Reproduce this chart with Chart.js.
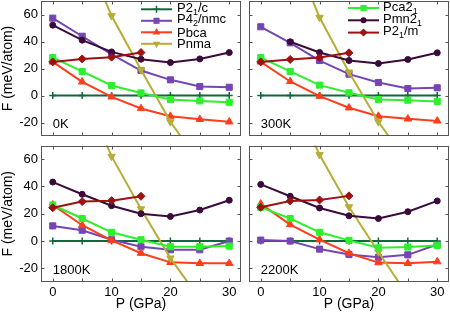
<!DOCTYPE html>
<html><head><meta charset="utf-8">
<script src="https://cdn.jsdelivr.net/npm/chart.js@4/dist/chart.umd.min.js"></script>
<style>
html,body{margin:0;padding:0;background:#fff;}
#wrap{position:relative;width:450px;height:315px;overflow:hidden;}
canvas{position:absolute;left:-20px;top:-20px;}
</style></head><body>
<div id="wrap">
<canvas id="c0" width="490" height="355"></canvas>
<canvas id="c1" width="490" height="355"></canvas>
<canvas id="c2" width="490" height="355"></canvas>
<canvas id="c3" width="490" height="355"></canvas>
</div>
<script>
// ---------------- data ----------------
const pressure = [0, 5, 10, 15, 20, 25, 30];
const phaseNames = ['P2_1/c', 'P4_2/nmc', 'Pbca', 'Pnma', 'Pca2_1', 'Pmn2_1', 'P2_1/m'];
const temperatures = ['0K', '300K', '1800K', '2200K'];
const xTickMarks = [0, 5, 10, 15, 20, 25, 30];
const xTickLabels = [0, 10, 20, 30];
const yTicks = [-20, 0, 20, 40, 60];
const xTitle = 'P (GPa)';
const yTitle = 'F (meV/atom)';

// 0K
const P21c_0K   = [0, 0, 0, 0, 0, 0, 0];
const P42nmc_0K = [57.3, 43.9, 30.4, 18.5, 11.6, 6.6, 6.1];
const Pbca_0K   = [24.9, 10.1, -1.0, -9.6, -15.3, -17.6, -19.5];
const Pnma_0K   = [null, 110, 59.0, 19.0, -19.5, -50, null];
const Pca21_0K  = [28.1, 17.8, 7.4, 1.9, -3.0, -4.0, -5.0];
const Pmn21_0K  = [52.1, 41.0, 32.3, 26.9, 24.4, 27.1, 31.8];
const P21m_0K   = [24.9, 27.1, 28.4, 31.8, null, null, null];

// 300K
const P21c_300K   = [0, 0, 0, 0, 0, 0, 0];
const P42nmc_300K = [50.9, 39.0, 25.9, 15.8, 9.6, 5.2, 5.7];
const Pbca_300K   = [24.9, 10.4, -0.5, -9.1, -15.3, -17.3, -18.8];
const Pnma_300K   = [null, 111, 57.8, 17.3, -19.5, -50, null];
const Pca21_300K  = [28.1, 17.8, 7.7, 2.0, -3.0, -3.5, -4.4];
const Pmn21_300K  = [null, 39.8, 31.9, 25.9, 23.7, 26.7, 31.6];
const P21m_300K   = [24.9, 26.7, 28.1, 31.6, null, null, null];

// 1800K
const P21c_1800K   = [0, 0, 0, 0, 0, 0, 0];
const P42nmc_1800K = [11.1, 7.9, 1.0, -4.2, -6.4, -6.4, 0.0];
const Pbca_1800K   = [26.5, 11.6, 0.5, -8.9, -15.6, -16.3, -16.3];
const Pnma_1800K   = [null, 112, 62.0, 23.5, -12.5, -42.5, null];
const Pca21_1800K  = [26.4, 16.5, 6.4, 1.0, -4.2, -4.2, -3.7];
const Pmn21_1800K  = [43.2, 34.3, 25.9, 20.0, 18.0, 22.7, 29.9];
const P21m_1800K   = [24.4, 28.9, 29.6, 32.8, null, null, null];

// 2200K
const P21c_2200K   = [0, 0, 0, 0, 0, 0, 0];
const P42nmc_2200K = [0.7, 0.0, -5.9, -9.9, -11.9, -10.1, -2.5];
const Pbca_2200K   = [27.2, 12.1, 1.0, -8.9, -15.8, -16.3, -15.1];
const Pnma_2200K   = [null, 110, 63.2, 25.0, -8.0, -40, null];
const Pca21_2200K  = [24.7, 16.5, 6.4, 0.5, -4.9, -4.4, -3.2];
const Pmn21_2200K  = [41.5, 32.8, 24.2, 18.5, 16.5, 21.5, 29.4];
const P21m_2200K   = [24.7, 29.4, 30.1, 33.1, null, null, null];

const panelSeries = [
  [P21c_0K, P42nmc_0K, Pbca_0K, Pnma_0K, Pca21_0K, Pmn21_0K, P21m_0K],
  [P21c_300K, P42nmc_300K, Pbca_300K, Pnma_300K, Pca21_300K, Pmn21_300K, P21m_300K],
  [P21c_1800K, P42nmc_1800K, Pbca_1800K, Pnma_1800K, Pca21_1800K, Pmn21_1800K, P21m_1800K],
  [P21c_2200K, P42nmc_2200K, Pbca_2200K, Pnma_2200K, Pca21_2200K, Pmn21_2200K, P21m_2200K]
];

// ---------------- styles ----------------
const FONT = '"Liberation Sans", Arial, Helvetica, sans-serif';
const OFF = 20; // canvas is offset by this much on every side
const phaseStyles = [
  {color: '#10693a', point: 'cross',    r: 3.5, rot: 0},
  {color: '#7545b4', point: 'rect',     r: 4.3, rot: 0},
  {color: '#ff3d1c', point: 'triangle', r: 4.3, rot: 0},
  {color: '#b6ae34', point: 'triangle', r: 4.3, rot: 180},
  {color: '#2cf02c', point: 'rect',     r: 4.3, rot: 0},
  {color: '#3a0a3a', point: 'circle',   r: 3.0, rot: 0},
  {color: '#9e1111', point: 'rectRot',  r: 4.0, rot: 0}
];
// panel geometry: chart-area rectangles in page pixels
const panelBoxes = [
  {L: 41,  T: 1,     R: 241, B: 136},
  {L: 249, T: 1,     R: 449, B: 136},
  {L: 41,  T: 145.5, R: 241, B: 282},
  {L: 249, T: 145.5, R: 449, B: 282}
];
const legendSpec = [
  {items: [0, 1, 2, 3], x1: 141, x2: 172, tx: 177, y0: 9.3, dy: 11.5},
  {items: [4, 5, 6],    x1: 348, x2: 379, tx: 383, y0: 8.0, dy: 12.3},
  null, null
];

function drawMarker(ctx, st, x, y) {
  const r = st.r;
  ctx.save();
  ctx.fillStyle = st.color; ctx.strokeStyle = st.color; ctx.lineWidth = 1.5;
  ctx.beginPath();
  if (st.point === 'rect') {
    const s = r * Math.SQRT1_2; ctx.rect(x - s, y - s, 2 * s, 2 * s); ctx.fill();
  } else if (st.point === 'circle') {
    ctx.arc(x, y, r, 0, Math.PI * 2); ctx.fill();
  } else if (st.point === 'triangle') {
    let a = st.rot * Math.PI / 180;
    for (let k = 0; k < 3; k++) {
      const px = x + Math.sin(a) * r, py = y - Math.cos(a) * r;
      if (k === 0) ctx.moveTo(px, py); else ctx.lineTo(px, py);
      a += 2 * Math.PI / 3;
    }
    ctx.closePath(); ctx.fill();
  } else if (st.point === 'rectRot') {
    ctx.moveTo(x, y - r); ctx.lineTo(x + r, y); ctx.lineTo(x, y + r); ctx.lineTo(x - r, y);
    ctx.closePath(); ctx.fill();
  } else if (st.point === 'cross') {
    ctx.moveTo(x, y - r); ctx.lineTo(x, y + r); ctx.moveTo(x - r, y); ctx.lineTo(x + r, y); ctx.stroke();
  }
  ctx.restore();
}

function drawRich(ctx, text, x, y, size) {
  let cx = x;
  const runs = [];
  let i = 0, buf = '';
  while (i < text.length) {
    if (text[i] === '_' && i + 1 < text.length) {
      if (buf) { runs.push({t: buf, sub: false}); buf = ''; }
      runs.push({t: text[i + 1], sub: true}); i += 2;
    } else { buf += text[i]; i++; }
  }
  if (buf) runs.push({t: buf, sub: false});
  ctx.textBaseline = 'alphabetic'; ctx.textAlign = 'left';
  for (const run of runs) {
    const fs = run.sub ? Math.round(size * 0.72) : size;
    ctx.font = fs + 'px ' + FONT;
    ctx.fillText(run.t, cx, run.sub ? y + 3 : y);
    cx += ctx.measureText(run.t).width;
  }
}

function makePlugin(idx) {
  return {
    id: 'panelDecor' + idx,
    afterDatasetsDraw(chart) {
      const ctx = chart.ctx;
      const {left, right, top, bottom} = chart.chartArea;
      const xs = chart.scales.x, ys = chart.scales.y;
      ctx.save();
      // frame
      ctx.strokeStyle = '#555'; ctx.lineWidth = 1;
      const l = Math.round(left) + 0.5, r = Math.round(right) - 0.5;
      const t = Math.round(top) + 0.5, b = Math.round(bottom) - 0.5;
      ctx.strokeRect(l, t, r - l, b - t);
      // inward ticks, mirrored
      const TL = 3;
      ctx.beginPath();
      for (const v of xTickMarks) {
        const px = Math.round(xs.getPixelForValue(v)) + 0.5;
        ctx.moveTo(px, b); ctx.lineTo(px, b - TL);
        ctx.moveTo(px, t); ctx.lineTo(px, t + TL);
      }
      for (const v of yTicks) {
        const py = Math.round(ys.getPixelForValue(v)) + 0.5;
        ctx.moveTo(l, py); ctx.lineTo(l + TL, py);
        ctx.moveTo(r, py); ctx.lineTo(r - TL, py);
      }
      ctx.stroke();
      // temperature label
      ctx.fillStyle = '#000';
      ctx.font = '13px ' + FONT;
      ctx.textAlign = 'left'; ctx.textBaseline = 'alphabetic';
      ctx.fillText(temperatures[idx], xs.getPixelForValue(0), bottom - 8.3);
      // legend (page coordinates shifted into canvas coordinates)
      const lg = legendSpec[idx];
      if (lg) {
        lg.items.forEach((k, n) => {
          const st = phaseStyles[k];
          const y = lg.y0 + n * lg.dy + OFF;
          ctx.strokeStyle = st.color; ctx.lineWidth = 2;
          ctx.beginPath(); ctx.moveTo(lg.x1 + OFF, y); ctx.lineTo(lg.x2 + OFF, y); ctx.stroke();
          drawMarker(ctx, st, (lg.x1 + lg.x2) / 2 + OFF, y);
          ctx.fillStyle = '#000';
          const hasSub = phaseNames[k].indexOf('_') >= 0;
          drawRich(ctx, phaseNames[k], lg.tx + OFF, y + 4.6 - (hasSub ? 2 : 0), 13);
        });
      }
      ctx.restore();
    }
  };
}

Chart.defaults.font.family = FONT;
Chart.defaults.color = '#000';

for (let p = 0; p < 4; p++) {
  const box = panelBoxes[p];
  const isLeft = (p % 2 === 0), isBottom = (p >= 2);
  const datasets = panelSeries[p].map((vals, k) => {
    const st = phaseStyles[k];
    return {
      label: phaseNames[k],
      data: pressure.map((x, j) => ({x: x, y: vals[j]})),
      borderColor: st.color,
      backgroundColor: st.color,
      borderWidth: 2,
      pointStyle: st.point,
      pointRotation: st.rot,
      pointRadius: st.r,
      pointBorderWidth: st.point === 'cross' ? 1.5 : 1,
      pointBackgroundColor: st.color,
      pointBorderColor: st.color,
      tension: 0,
      spanGaps: false,
      order: 10 - k
    };
  });
  new Chart(document.getElementById('c' + p), {
    type: 'line',
    data: {datasets},
    plugins: [makePlugin(p)],
    options: {
      responsive: false,
      animation: false,
      devicePixelRatio: 1,
      events: [],
      layout: {autoPadding: false, padding: {left: OFF, top: box.T + OFF, right: 450 - box.R + OFF, bottom: OFF}},
      plugins: {legend: {display: false}, tooltip: {enabled: false}},
      scales: {
        x: {
          type: 'linear', min: -2, max: 32,
          grid: {display: false, drawTicks: false},
          border: {display: false},
          afterBuildTicks: s => { s.ticks = xTickLabels.map(v => ({value: v})); },
          afterFit: s => { s.height = 315 - box.B; },
          ticks: {display: isBottom, padding: 3, font: {size: 13}, color: '#000', maxRotation: 0, autoSkip: false},
          title: {display: isBottom, text: xTitle, font: {size: 14}, color: '#000', padding: {top: 0, bottom: 2}}
        },
        y: {
          type: 'linear', min: -30, max: 70,
          grid: {display: false, drawTicks: false},
          border: {display: false},
          afterBuildTicks: s => { s.ticks = yTicks.map(v => ({value: v})); },
          afterFit: s => { s.width = box.L; },
          ticks: {display: isLeft, padding: 3, font: {size: 13}, color: '#000', autoSkip: false},
          title: {display: isLeft, text: yTitle, font: {size: 14}, color: '#000', padding: {top: 0, bottom: 0}}
        }
      }
    }
  });
}
</script>
</body></html>
